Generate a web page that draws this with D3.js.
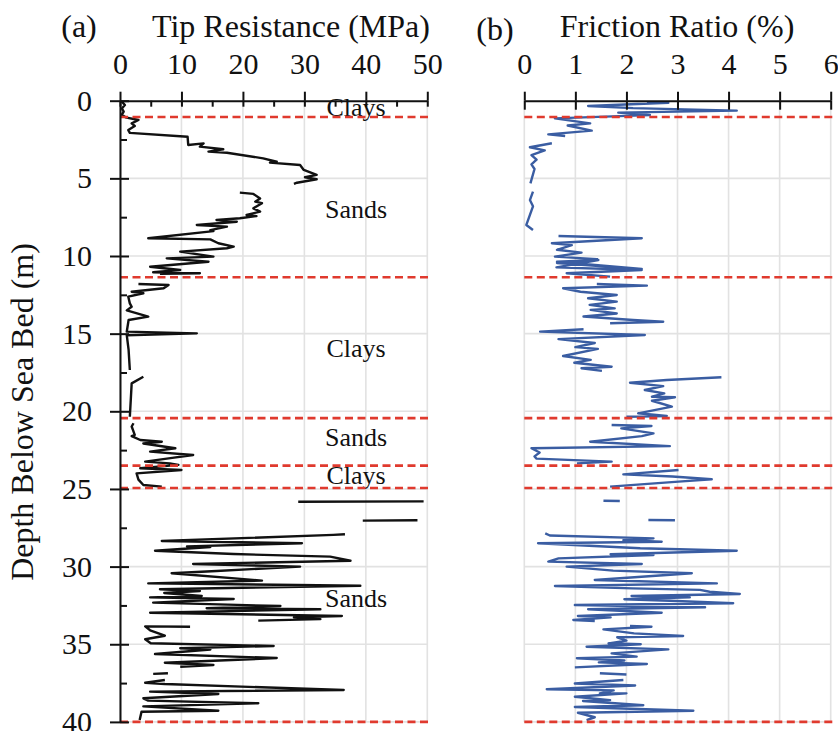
<!DOCTYPE html>
<html>
<head>
<meta charset="utf-8">
<script src="https://cdn.jsdelivr.net/npm/d3@7"></script>
<style>
  body { margin: 0; background: #fff; }
  svg text { font-family: "Liberation Serif", "Times New Roman", serif; fill: #111; }
</style>
</head>
<body>
<div id="chart"></div>
<script>
// ticks and layers
const tipTicks = [0, 10, 20, 30, 40, 50];
const tipMinor = [5, 15, 25, 35, 45];
const frTicks = [0, 1, 2, 3, 4, 5, 6];
const depthTicks = [0, 5, 10, 15, 20, 25, 30, 35, 40];
const depthMinor = [2.5, 7.5, 12.5, 17.5, 22.5, 27.5, 32.5, 37.5];
const layerBounds = [1.05, 11.37, 20.44, 23.5, 24.94, 40];
const layerNames = ["Clays", "Sands", "Clays", "Sands", "Clays", "Sands"];
const layerLabelDepth = [0.99, 7.57, 16.48, 22.23, 24.68, 32.62];

// tip resistance [depth, MPa], null = gap
const tipData = [
  [0.06,0.3],[0.28,0.8],[0.5,0.3],[0.7,0.6],[0.9,0.3],[1.07,0.9],[1.24,3.0],[1.46,1.9],[1.63,2.4],[1.89,1.35],[2.07,1.6],[2.32,11.0],
  [2.85,11.1],[2.75,13.6],[2.96,13.0],[3.13,16.8],[3.28,14.4],[3.35,17.4],[3.71,23.3],[3.93,25.5],[3.99,24.4],[4.14,29.3],[4.46,29.9],
  [4.78,32.0],[4.93,30.1],[5.06,32.0],[5.28,28.8],[5.36,28.3],null,
  [5.92,19.5],[6.0,21.7],[6.29,22.8],[6.5,22.0],[6.6,23.1],[6.93,21.7],[7.14,22.8],[7.36,20.6],[7.43,22.2],[7.57,19.5],[7.68,15.7],
  [7.79,19.0],[8.0,12.5],[8.11,17.4],[8.33,14.7],[8.4,15.2],[8.86,4.6],[8.93,14.7],[9.18,16.0],[9.4,18.5],[9.5,17.4],[9.72,9.8],
  [10.04,15.2],[10.15,7.6],[10.37,14.4],[10.69,4.9],[10.9,9.8],[11.05,5.4],[11.11,13.0],[11.15,6.5],null,
  [11.8,3.0],[11.87,7.9],[12.08,7.1],[12.3,1.9],[12.4,3.8],[12.62,1.35],[13.05,1.6],[13.27,1.9],[13.5,1.1],[13.9,4.6],[14.12,1.4],
  [14.87,1.1],[14.98,12.5],[15.1,1.1],[16.05,1.4],[17.34,1.6],null,
  [17.77,3.8],[18.2,1.9],[20.35,1.6],null,
  [20.77,2.2],[20.98,1.9],[21.52,2.4],[21.6,1.9],[21.85,3.3],[21.96,6.8],[22.07,3.8],[22.38,9.0],[22.6,4.9],[22.81,11.9],[23.0,8.5],
  [23.24,4.1],[23.35,8.1],[23.45,9.5],[23.67,3.3],[23.78,10.0],[24.0,2.7],[24.4,3.0],[24.75,3.8],[24.85,6.8],null,
  [25.82,29.0],[25.8,49.4],null,
  [27.04,39.5],[27.02,48.4],null,
  [27.92,36.6],[27.96,34.7],[28.35,6.8],[28.5,29.6],[28.7,10.9],[28.74,14.7],[28.98,5.7],[29.19,18.5],[29.36,34.2],[29.62,37.5],
  [29.83,11.9],[30.0,29.3],[30.28,15.7],[30.43,8.4],[30.9,23.1],[31.08,4.6],[31.23,39.1],[31.46,6.5],[31.57,13.0],[31.7,7.2],
  [31.89,13.3],[31.98,4.9],[32.09,18.5],[32.32,5.4],[32.54,26.1],[32.68,14.1],[32.75,32.6],[32.97,4.9],[33.18,36.1],[33.27,28.3],
  [33.38,32.6],[33.48,22.5],null,
  [33.87,11.4],[33.85,4.1],[34.1,4.9],[34.45,7.3],[34.68,4.1],[34.94,5.0],[35.11,25.0],[35.26,9.8],[35.34,14.7],[35.63,5.7],
  [35.89,25.5],[36.19,7.3],[36.34,15.2],[36.45,9.8],null,
  [36.91,5.4],[36.87,7.8],null,
  [37.3,7.3],[37.48,4.1],[37.56,7.3],[37.95,36.4],[38.05,4.9],[38.2,16.0],[38.48,3.8],[38.63,4.6],[38.8,22.5],[39.0,3.8],
  [39.28,16.0],[39.35,3.5],[39.88,3.2]
];

// friction ratio [depth, %], null = gap
const frData = [
  [0.13,2.4],[0.13,2.82],[0.34,1.25],[0.48,2.13],[0.64,4.16],[0.77,1.84],[0.92,2.46],[0.98,2.0],[1.14,0.6],[1.46,1.29],[1.6,0.85],
  [1.93,1.32],[2.17,0.47],[2.27,0.8],null,
  [2.74,0.54],[3.0,0.11],[3.2,0.4],[3.5,0.14],[3.8,0.24],[4.1,0.14],[4.4,0.2],[5.32,0.12],null,
  [5.86,0.17],[6.4,0.11],[6.8,0.17],[8.0,0.04],[8.33,0.17],null,
  [8.71,0.67],[8.86,2.3],[9.18,0.54],[9.3,0.93],[9.6,0.64],[9.78,1.12],[10.04,0.6],[10.2,1.42],[10.45,0.64],[10.84,2.3],
  [10.37,0.64],[10.26,1.45],[10.73,0.63],[10.9,2.3],[11.11,0.83],[11.33,1.68],null,
  [11.8,1.42],[11.91,2.4],[12.08,0.76],[12.3,1.1],[12.51,1.81],[12.72,1.25],[12.94,1.81],[13.15,1.28],[13.37,1.77],[13.47,1.3],
  [13.7,1.81],[13.9,1.16],[14.12,2.13],[14.23,2.72],[14.33,1.68],null,
  [14.72,1.16],[14.87,0.31],[15.09,2.36],[15.35,0.67],[15.6,1.38],[15.87,1.0],[15.98,1.44],[16.44,0.76],[16.69,1.3],[16.87,0.98],
  [17.13,1.71],[17.23,1.12],[17.4,1.52],null,
  [17.81,3.86],[17.98,2.79],[18.16,2.07],[18.38,2.72],[18.63,2.36],[18.85,2.74],[19.06,2.5],[19.1,2.95],[19.32,2.5],[19.7,2.89],
  [20.13,2.23],[20.3,2.79],[20.35,2.0],null,
  [20.88,1.71],[20.95,2.49],[21.1,1.9],[21.42,2.53],[21.6,2.3],[21.96,1.29],[22.24,2.85],[22.38,0.14],[22.65,0.3],[22.9,0.2],
  [23.05,0.24],[23.24,1.71],[23.35,1.03],null,
  [23.78,3.02],[24.06,1.94],[24.2,2.9],[24.38,3.67],[24.53,3.02],[24.85,1.68],null,
  [25.76,1.55],[25.78,1.87],null,
  [27.0,2.43],[27.02,2.95],null,
  [27.86,0.41],[28.0,0.5],[28.18,2.53],[28.3,1.94],[28.4,2.69],[28.5,0.27],[28.82,2.27],[28.98,4.16],[29.2,1.69],[29.25,2.53],
  [29.47,0.67],[29.68,0.47],[29.83,2.3],[30.0,0.83],[30.26,1.74],[30.43,3.28],[30.86,1.38],[31.08,3.77],[31.25,0.6],[31.4,2.12],
  [31.5,3.44],[31.62,3.63],[31.76,4.22],[31.89,2.1],[31.98,3.24],[32.1,1.96],[32.2,2.85],[32.36,4.09],[32.47,0.99],[32.62,3.54],
  [32.75,1.25],[32.97,2.69],[33.18,1.05],[33.27,1.69],[33.44,0.96],[33.5,1.38],null,
  [33.82,2.07],[33.87,2.49],[34.04,1.55],[34.3,2.15],[34.47,3.11],[34.55,1.82],[34.77,2.0],[34.94,1.65],[35.0,2.28],[35.16,1.22],
  [35.33,2.82],[35.59,1.71],[35.8,2.2],[35.9,1.03],[36.05,1.96],[36.17,1.46],[36.27,2.4],[36.49,0.99],null,
  [36.87,1.48],[36.95,2.0],null,
  [37.3,1.94],[37.53,0.99],[37.66,2.17],[37.9,0.44],[37.97,1.75],[38.16,1.48],[38.16,2.0],[38.38,0.99],[38.6,1.68],[38.65,1.15],
  [38.93,2.33],[39.04,0.99],[39.28,3.31],[39.41,1.05],[39.7,1.38],[39.88,1.22]
];

const W = 838, H = 731;
const svg = d3.select("#chart").append("svg").attr("width", W).attr("height", H);

const y = d3.scaleLinear().domain([0, 40]).range([100.7, 721.9]);
const xa = d3.scaleLinear().domain([0, 50]).range([120, 427.3]);
const xb = d3.scaleLinear().domain([0, 6]).range([524.3, 830.7]);

const gridColor = "#e2e2e2";
const redColor = "#e03a2e";
const serif = "'Liberation Serif', 'Times New Roman', serif";

function panel(x, ticks, minor, data, color, leftAxis) {
  const g = svg.append("g");
  const [x0, x1] = x.range();

  // gridlines
  g.selectAll(".vgrid").data(ticks).enter().append("line")
    .attr("x1", d => x(d)).attr("x2", d => x(d))
    .attr("y1", y(0)).attr("y2", y(40))
    .attr("stroke", gridColor).attr("stroke-width", 1.6);
  g.selectAll(".hgrid").data(depthTicks.slice(1)).enter().append("line")
    .attr("x1", x0).attr("x2", x1)
    .attr("y1", d => y(d)).attr("y2", d => y(d))
    .attr("stroke", gridColor).attr("stroke-width", 1.6);

  // layer labels (left panel only)
  if (leftAxis) {
    g.selectAll(".layer").data(layerNames).enter().append("text")
      .attr("x", 356).attr("y", (d, i) => y(layerLabelDepth[i]))
      .attr("text-anchor", "middle").style("font-size", "26px")
      .text(d => d);
  }

  // curve
  const line = d3.line()
    .defined(d => d !== null)
    .x(d => x(d[1]))
    .y(d => y(d[0]));
  g.append("path").datum(data)
    .attr("d", line).attr("fill", "none")
    .attr("stroke", color).attr("stroke-width", 2.4)
    .attr("stroke-linejoin", "round");

  // layer boundaries
  g.selectAll(".bound").data(layerBounds).enter().append("line")
    .attr("x1", x0).attr("x2", x1 + 2)
    .attr("y1", d => y(d)).attr("y2", d => y(d))
    .attr("stroke", redColor).attr("stroke-width", 2.6)
    .attr("stroke-dasharray", "8,4.5");

  // top axis with labels
  const top = g.append("g").attr("transform", `translate(0,${y(0)})`)
    .call(d3.axisTop(x).tickValues(ticks).tickFormat(d3.format("d"))
      .tickSize(9).tickSizeOuter(0).tickPadding(18));
  top.select(".domain").attr("stroke", "#111").attr("stroke-width", 2);
  top.selectAll(".tick line").attr("stroke", "#111").attr("stroke-width", 2);
  top.selectAll("text").style("font-size", "30px").attr("fill", "#111")
    .style("font-family", serif);

  const below = g.append("g").attr("transform", `translate(0,${y(0)})`)
    .call(d3.axisBottom(x).tickValues(ticks).tickSize(leftAxis ? 6 : 9).tickSizeOuter(0).tickFormat(""));
  below.select(".domain").remove();
  below.selectAll(".tick line").attr("stroke", "#111").attr("stroke-width", 2);

  if (minor.length) {
    const mn = g.append("g").attr("transform", `translate(0,${y(0)})`)
      .call(d3.axisBottom(x).tickValues(minor).tickSize(6).tickSizeOuter(0).tickFormat(""));
    mn.select(".domain").remove();
    mn.selectAll(".tick line").attr("stroke", "#111").attr("stroke-width", 2);
  }

  if (leftAxis) {
    const left = g.append("g").attr("transform", `translate(${x0},0)`)
      .call(d3.axisLeft(y).tickValues(depthTicks).tickFormat(d3.format("d"))
        .tickSize(10).tickSizeOuter(0).tickPadding(18));
    left.select(".domain").attr("stroke", "#111").attr("stroke-width", 2);
    left.selectAll(".tick line").attr("stroke", "#111").attr("stroke-width", 2);
    left.selectAll("text").style("font-size", "30px").attr("fill", "#111")
      .style("font-family", serif);

    const right = g.append("g").attr("transform", `translate(${x0},0)`)
      .call(d3.axisRight(y).tickValues(depthTicks).tickSize(9).tickSizeOuter(0).tickFormat(""));
    right.select(".domain").remove();
    right.selectAll(".tick line").attr("stroke", "#111").attr("stroke-width", 2);

    const rmin = g.append("g").attr("transform", `translate(${x0},0)`)
      .call(d3.axisRight(y).tickValues(depthMinor).tickSize(7).tickSizeOuter(0).tickFormat(""));
    rmin.select(".domain").remove();
    rmin.selectAll(".tick line").attr("stroke", "#111").attr("stroke-width", 2);
  }
  return g;
}

panel(xa, tipTicks, tipMinor, tipData, "#111", true);
panel(xb, frTicks, [], frData, "#3a5da2", false);

// titles
svg.append("text").attr("x", 79).attr("y", 37).attr("text-anchor", "middle")
  .style("font-size", "32px").text("(a)");
svg.append("text").attr("x", 291).attr("y", 37).attr("text-anchor", "middle")
  .style("font-size", "32px").text("Tip Resistance (MPa)");
svg.append("text").attr("x", 495).attr("y", 40).attr("text-anchor", "middle")
  .style("font-size", "32px").text("(b)");
svg.append("text").attr("x", 677).attr("y", 37).attr("text-anchor", "middle")
  .style("font-size", "32px").text("Friction Ratio (%)");

svg.append("text")
  .attr("transform", `translate(33,${412}) rotate(-90)`)
  .attr("text-anchor", "middle")
  .style("font-size", "32px")
  .text("Depth Below Sea Bed (m)");
</script>
</body>
</html>
